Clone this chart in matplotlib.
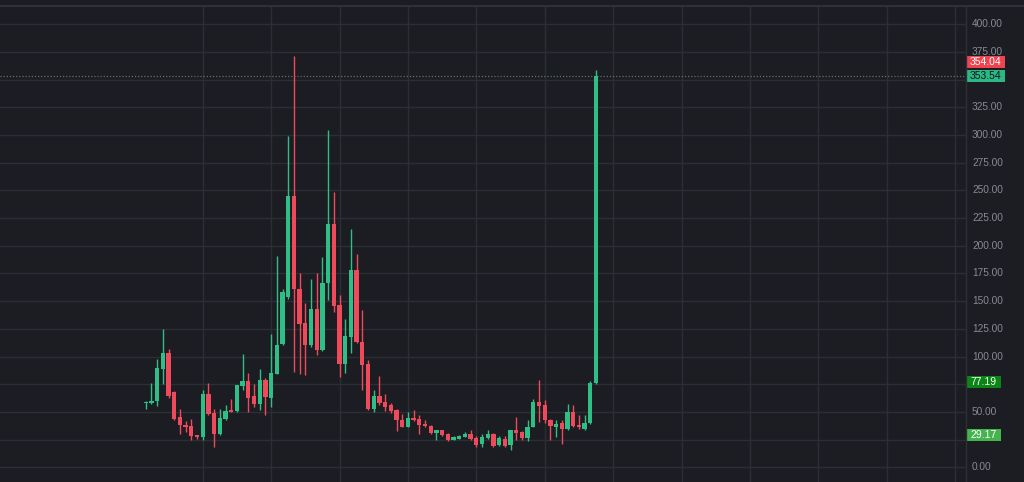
# ==============================
# Candlestick chart (dark theme)
# ==============================

import numpy as np
import matplotlib.pyplot as plt
import matplotlib.transforms as mtransforms
from matplotlib.patches import Rectangle
from matplotlib.lines import Line2D


# ==============================
# 1. Data
# ==============================
opens = [58, 58.5, 59.6, 89, 103, 68, 45, 38.5, 37, 29,
         27, 66, 49, 30, 43.6, 52, 50.6, 73.4, 78, 64,
         57, 78.6, 63, 84.6, 111, 154, 244.7, 161.3, 130.3, 110.2,
         143.3, 106.3, 166.4, 220, 146.3, 93.6, 117.7, 178.5, 113.2, 93,
         53, 64, 59, 56, 51.5, 42.4, 36.4, 44.5, 43.3, 38.8,
         37, 31, 33.4, 29.8, 25, 26, 27.4, 29.8, 26.8, 20.8,
         26.8, 30.4, 19.9, 25.9, 19.9, 33.4, 31.9, 26.8, 36.4, 59,
         56, 43, 36.4, 40, 35, 50, 38, 35, 40, 76]
highs = [60, 76, 97.5, 125, 107, 68.5, 53, 41.5, 43.6, 29.5,
         69.5, 76.5, 53, 53, 56.6, 62, 74.5, 102.7, 85.5, 75.6,
         89, 81, 120, 190.5, 161.3, 299, 371, 175, 148, 170.4,
         175, 190, 304.3, 248.6, 155.3, 134.3, 215.5, 193, 141.8, 96.6,
         69.5, 82, 66.5, 58, 53, 48, 50, 52, 47, 42.4,
         38, 34, 34, 31, 28, 29, 31.9, 34, 28, 30.4,
         34, 31, 28, 28, 34, 45, 33, 42.4, 62, 78.6,
         61, 44, 42.4, 42.4, 57, 56, 47.6, 47, 78, 359]
lows = [53, 57, 55, 75, 63, 43, 30, 32, 25, 26,
        25, 47, 18, 29, 43, 49.5, 50, 70, 50, 54,
        52, 47, 54, 84, 110, 152, 86, 84.6, 83, 109,
        101, 105, 150.8, 140, 81.5, 85, 103.2, 112, 69.5, 51.5,
        50, 56, 50.8, 49, 32.8, 36, 36, 41.5, 30, 36,
        30.5, 24.4, 28, 24, 24.5, 25.5, 27, 25, 18.3, 18.5,
        26, 18, 19, 18, 15.3, 25, 25, 23.7, 36, 41,
        40, 24.4, 27.4, 20.8, 34, 36, 35, 34, 39, 75]
closes = [59, 60, 89.7, 103.6, 64, 44, 38, 36.4, 28.6, 27,
          66, 48, 30, 44.5, 50.8, 50, 74, 77.7, 63, 57,
          78.6, 63.5, 85.5, 110.8, 158.3, 244.7, 161.3, 129.7, 110.2, 143.3,
          105.6, 166.4, 220, 145.4, 93.6, 118.3, 178.5, 113.2, 92.1, 53,
          64.1, 58, 54.4, 50.8, 42.4, 36.4, 44.5, 42.4, 38, 37,
          31, 33.4, 29, 25, 27.4, 28, 29.8, 26, 20, 27.4,
          30.4, 19, 26.8, 19, 33.4, 31, 26.8, 36.4, 59, 55,
          42.4, 37, 39.5, 35, 50, 37, 36, 40, 76, 353.54]

price_ticks = np.arange(0, 401, 25)

# axis tags shown on the price scale
tag_texts = ["354.04", "353.54", "77.19", "29.17"]
tag_values = [366.0, 353.54, 77.19, 29.17]
last_price = 353.54


# ==============================
# 2. Style
# ==============================
BG = "#1c1d22"
GRID = "#2c2e36"
UP = "#2fbf86"
DOWN = "#ee4a5c"
TEXT = "#878a93"
tag_bg = ["#f0434f", "#2bb883", "#0c8416", "#46b44e"]
tag_fg = ["white", "#101418", "white", "white"]

plt.rcParams['font.family'] = ['Liberation Sans', 'DejaVu Sans']

W, H = 1024, 482
px_per_unit = 1.1075
zero_px = 467.3          # pixel row of price 0
top_px = 6.3             # top border
axis_px = 966            # left edge of price scale
x0_px, step_px = 145.7, 5.7

fig = plt.figure(figsize=(W / 100, H / 100), dpi=100, facecolor=BG)
ax = fig.add_axes([0, 0, axis_px / W, (H - top_px) / H])
ax.set_facecolor(BG)

ax.set_ylim((zero_px - H) / px_per_unit, (zero_px - top_px) / px_per_unit)
ax.set_xlim(-x0_px / step_px, (axis_px - x0_px) / step_px)

for s in ax.spines.values():
    s.set_visible(False)
ax.set_xticks([])
ax.set_yticks([])


# ==============================
# 3. Grid
# ==============================
for p in price_ticks:
    ax.axhline(p, color=GRID, lw=1, zorder=0)
for i in range(10, 143, 12):
    ax.axvline(i, color=GRID, lw=1, zorder=0)

# top border across the whole image and price-scale border
fig.add_artist(Line2D([0, 1], [1 - top_px / H] * 2, color="#34363e", lw=1.2))
fig.add_artist(Line2D([axis_px / W] * 2, [0, 1 - top_px / H], color="#2e3038", lw=1))


# ==============================
# 4. Candles
# ==============================
o = np.array(opens)
c = np.array(closes)
hi = np.array(highs)
lo = np.array(lows)
idx = np.arange(len(o))
colors = [UP if cc >= oo else DOWN for oo, cc in zip(o, c)]

ax.vlines(idx, lo, hi, colors=colors, lw=1, zorder=2)
body_bottom = np.minimum(o, c)
body_height = np.maximum(np.abs(c - o), 1.0)
ax.bar(idx, body_height, bottom=body_bottom, width=0.74, color=colors,
       edgecolor="none", zorder=3)

# last price dotted line
ax.axhline(last_price, color="#5f6f6a", lw=0.9, ls=(0, (1, 1.5)), zorder=1)


# ==============================
# 5. Price scale
# ==============================
tr = mtransforms.blended_transform_factory(fig.transFigure, ax.transData)
for p in price_ticks:
    # labels sitting under a tag are hidden in the original
    if min(abs(p - v) for v in tag_values) * px_per_unit < 9:
        continue
    ax.text(972 / W, p, f"{p:.2f}", transform=tr, color=TEXT, fontsize=7.3,
            va="center", ha="left", clip_on=False)

box_h = 12.5 / px_per_unit
box_w = [39, 39, 35, 35]
for t, v, bg, fg, bw in zip(tag_texts, tag_values, tag_bg, tag_fg, box_w):
    ax.add_patch(Rectangle((axis_px / W, v - box_h / 2), bw / W, box_h,
                           transform=tr, facecolor=bg, edgecolor="none",
                           clip_on=False, zorder=5))
    ax.text((axis_px + 4) / W, v, t, transform=tr, color=fg, fontsize=7.5,
            va="center", ha="left", clip_on=False, zorder=6)

fig.savefig("out.png", dpi=100, facecolor=BG)
